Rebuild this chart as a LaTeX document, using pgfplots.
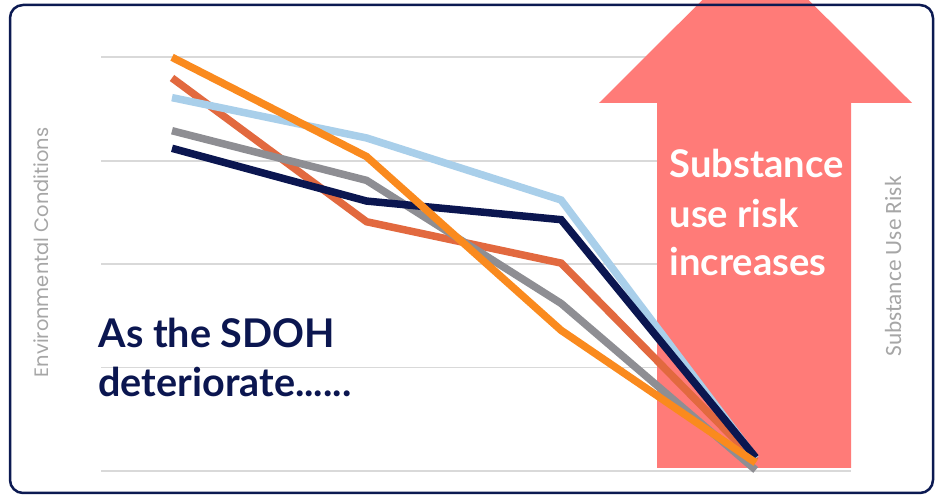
\documentclass[border=0pt]{standalone}
\usepackage{fontspec}
\setmainfont{Lato}
\newfontfamily\poppins{Poppins}
\newfontfamily\carlito{Carlito}
\usepackage{pgfplots}
\pgfplotsset{compat=1.18}
\definecolor{navy}{HTML}{0B1650}
\definecolor{borderc}{HTML}{0C1A52}
\definecolor{orangeL}{HTML}{FA8A1E}
\definecolor{redL}{HTML}{E2693F}
\definecolor{blueL}{HTML}{A9CFEA}
\definecolor{grayL}{HTML}{8E8E93}
\definecolor{arrowc}{HTML}{FF7B78}
\definecolor{gridc}{HTML}{D9D9D9}
\definecolor{labelc}{HTML}{A6A6A6}
\begin{document}
\begin{tikzpicture}[x=1bp,y=1bp]
\useasboundingbox (0,0) rectangle (938,495);
\clip (0,0) rectangle (938,495);
\fill[white] (0,0) rectangle (938,495);
\pgfplotsset{base/.style={at={(101bp,24bp)}, anchor=south west, scale only axis,
  width=750bp, height=413.7bp, xmin=-0.365, xmax=3.49, ymin=0, ymax=4,
  axis line style={draw=none}, xtick=\empty, ytick={0,1,2,3,4}, yticklabels={},
  major tick length=0pt, clip=false}}
\begin{axis}[base, ymajorgrids, y grid style={gridc, line width=1.6bp}]
\addplot[draw=none] coordinates {(0,0)};
\end{axis}
% arrow
\fill[arrowc] (657,27)--(851,27)--(851,392)--(912,392)--(755.5,548)--(599,392)--(657,392)--cycle;
\begin{axis}[base]
\addplot[redL, line width=7.5bp] coordinates {(0,3.80) (1,2.41) (2,2.01) (3,0.10)};
\addplot[blueL, line width=7.5bp] coordinates {(0,3.61) (1,3.22) (2,2.62) (3,0.12)};
\addplot[grayL, line width=7.5bp] coordinates {(0,3.29) (1,2.81) (2,1.62) (3,0.01)};
\addplot[navy, line width=7.5bp] coordinates {(0,3.12) (1,2.61) (2,2.43) (3,0.13)};
\addplot[orangeL, line width=7.5bp] coordinates {(0,4.00) (1,3.04) (2,1.36) (3,0.08)};
\end{axis}
% border
\draw[borderc, line width=2.5bp, rounded corners=13bp] (10,2) rectangle (933,490);
% texts
\node[rotate=90, text=labelc, font=\poppins\fontsize{19.5}{23}\selectfont] at (41,242.5) {Environmental Conditions};
\node[rotate=90, text=labelc, font=\carlito\fontsize{23.4}{28}\selectfont] at (893,228.5) {Substance Use Risk};
\node[anchor=base west, text=navy, font=\bfseries\fontsize{39.7}{49}\selectfont] at (95,147) {As the SDOH};
\node[anchor=base west, text=navy, font=\bfseries\fontsize{39.7}{49}\selectfont] at (95,98) {deteriorate......};
\node[anchor=base west, text=white, font=\bfseries\fontsize{38.3}{49}\selectfont] at (666,317) {Substance};
\node[anchor=base west, text=white, font=\bfseries\fontsize{38.3}{49}\selectfont] at (666,267) {use risk};
\node[anchor=base west, text=white, font=\bfseries\fontsize{38.3}{49}\selectfont] at (666,219) {increases};
\end{tikzpicture}
\end{document}
